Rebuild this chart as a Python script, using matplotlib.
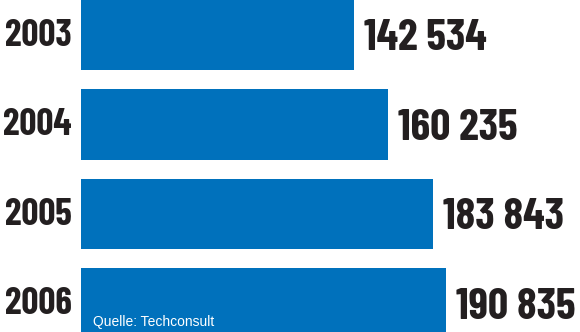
import matplotlib.pyplot as plt

years = ["2003", "2004", "2005", "2006"]
values = [142534, 160235, 183843, 190835]
source = "Quelle: Techconsult"

bar_color = "#0071bc"
text_color = "#231f20"
cond = ["Barlow Condensed", "Asap Condensed", "DejaVu Sans"]

fig = plt.figure(figsize=(5.8, 3.32), dpi=100)
ax = fig.add_axes([0, 0, 1, 1])

px = 0.001915  # pixels per unit
ax.barh(range(len(years)), values, height=0.785, color=bar_color)
ax.set_xlim(-81 / px, 499 / px)
ax.set_ylim(-0.391 + 332 / 89.5, -0.391)
ax.axis("off")

for i, (yr, v) in enumerate(zip(years, values)):
    ax.annotate(yr, (0, i), xytext=(-9, -1), textcoords="offset pixels",
                ha="right", va="center", fontsize=27, fontweight=700,
                family=cond, color=text_color)
    lab = f"{v:,}".replace(",", " ")
    ax.annotate(lab, (v, i), xytext=(10, -4), textcoords="offset pixels",
                ha="left", va="center", fontsize=32, fontweight=700,
                family=cond, color=text_color)

ax.annotate(source, (0, len(years) - 1), xytext=(12, -23), textcoords="offset pixels",
            ha="left", va="baseline", fontsize=10, color="white",
            family=["Liberation Sans", "DejaVu Sans"])

fig.savefig("out.png", dpi=100)
